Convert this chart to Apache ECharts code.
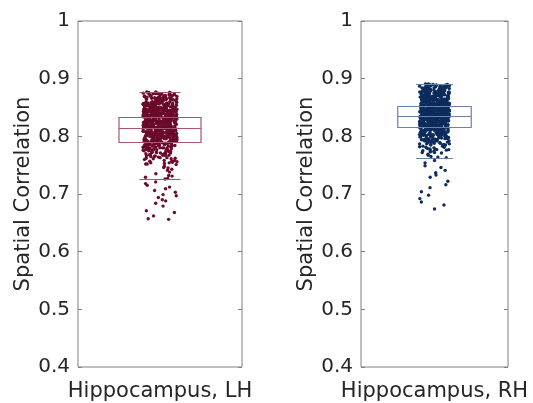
<!DOCTYPE html>
<html><head><meta charset="utf-8">
<script src="https://cdn.jsdelivr.net/npm/echarts@6/dist/echarts.min.js"></script>
<style>html,body{margin:0;padding:0;background:#fff}#c{width:533px;height:403px}</style>
</head><body><div id="c"></div>
<script>
// ---- data ----
const categoriesLH = ['Hippocampus, LH'];
const categoriesRH = ['Hippocampus, RH'];
const yTicks = [0.4, 0.5, 0.6, 0.7, 0.8, 0.9, 1];
// [lower whisker, Q1, median, Q3, upper whisker]
const boxLH = [0.726, 0.790, 0.814, 0.833, 0.877];
const boxRH = [0.763, 0.817, 0.835, 0.853, 0.891];

const pointsLH = [
0.877,0.875,0.874,0.873,0.872,0.871,0.876,0.870,0.873,0.876,0.872,0.874,
0.869,0.868,0.867,0.866,0.865,0.864,0.863,0.862,0.861,0.860,0.868,0.866,0.864,0.862,0.869,0.865,0.863,0.867,0.861,0.866,0.864,0.868,
0.859,0.858,0.857,0.856,0.855,0.854,0.853,0.852,0.851,0.850,0.858,0.856,0.854,0.852,0.857,0.855,0.853,0.851,0.859,0.856,0.854,0.850,0.857,0.853,0.855,0.858,0.852,0.856,
0.849,0.848,0.847,0.846,0.845,0.844,0.843,0.842,0.841,0.840,0.848,0.846,0.844,0.842,0.847,0.845,0.843,0.841,0.849,0.846,0.844,0.840,0.847,0.843,0.845,0.848,0.842,0.846,0.841,0.844,0.849,0.843,0.847,
0.839,0.838,0.837,0.836,0.835,0.834,0.833,0.832,0.831,0.830,0.838,0.836,0.834,0.832,0.837,0.835,0.833,0.831,0.839,0.836,0.834,0.830,0.837,0.833,0.835,0.838,0.832,0.836,0.831,0.834,0.839,0.833,0.837,0.835,0.830,0.838,0.832,0.836,
0.829,0.828,0.827,0.826,0.825,0.824,0.823,0.822,0.821,0.820,0.828,0.826,0.824,0.822,0.827,0.825,0.823,0.821,0.829,0.826,0.824,0.820,0.827,0.823,0.825,0.828,0.822,0.826,0.821,0.824,0.829,0.823,0.827,0.825,0.820,0.828,0.822,0.826,0.824,0.827,0.821,0.825,
0.819,0.818,0.817,0.816,0.815,0.814,0.813,0.812,0.811,0.810,0.818,0.816,0.814,0.812,0.817,0.815,0.813,0.811,0.819,0.816,0.814,0.810,0.817,0.813,0.815,0.818,0.812,0.816,0.811,0.814,0.819,0.813,0.817,0.815,0.810,0.818,0.812,0.816,0.814,0.817,0.811,0.815,
0.809,0.808,0.807,0.806,0.805,0.804,0.803,0.802,0.801,0.800,0.808,0.806,0.804,0.802,0.807,0.805,0.803,0.801,0.809,0.806,0.804,0.800,0.807,0.803,0.805,0.808,0.802,0.806,0.801,0.804,0.809,0.803,0.807,0.805,0.800,0.808,0.802,0.806,
0.799,0.798,0.797,0.796,0.795,0.794,0.793,0.792,0.791,0.790,0.798,0.796,0.794,0.792,0.797,0.795,0.793,0.791,0.799,0.796,0.794,0.790,0.797,0.793,0.795,0.798,0.792,0.796,0.791,0.794,0.799,0.793,
0.789,0.788,0.787,0.786,0.785,0.784,0.783,0.782,0.781,0.780,0.788,0.786,0.784,0.782,0.787,0.785,0.783,0.781,0.789,0.786,0.784,0.780,0.787,0.783,
0.779,0.777,0.776,0.775,0.774,0.772,0.771,0.770,0.778,0.776,0.773,0.771,0.779,0.775,0.772,0.777,
0.769,0.767,0.766,0.764,0.762,0.761,0.768,0.765,0.763,0.760,0.767,
0.758,0.756,0.754,0.752,0.751,0.757,0.753,
0.748,0.746,0.743,0.741,0.745,
0.738,0.735,0.732,0.731,
0.729,0.727,0.726,
0.721,0.718,0.715,0.712,0.709,0.706,0.703,0.699,0.697,0.694,0.690,0.688,0.684,0.679,0.671,0.668,0.662,0.657,0.656,
0.876,0.874,0.872,0.871,0.869,0.868,0.866,0.865,0.863,0.862,0.860,0.875,0.873,0.870,0.867,0.864,0.861,0.877,0.872,0.869,0.866,0.863,0.860,0.874,0.871,0.868,0.865,0.862,0.870,0.867,
0.859,0.857,0.856,0.854,0.853,0.851,0.850,0.858,0.855,0.852,0.859,0.856,0.853,0.851,0.857,0.854,0.850,0.858,0.855,0.852,0.856,0.853,0.859,0.857,0.851,0.854,0.858,0.850,0.855,0.853,0.856,0.852,0.857,0.854,0.851,0.858,
0.849,0.847,0.846,0.844,0.843,0.841,0.840,0.848,0.845,0.842,0.849,0.846,0.843,0.841,0.847,0.844,0.840,0.848,0.845,0.842,0.846,0.843,0.847,0.841,0.845,0.848,0.844,0.842,0.846,0.840,0.849,0.843,0.847,0.841,0.845,0.848,0.842,0.846,0.844,0.849,
0.839,0.837,0.836,0.834,0.833,0.831,0.830,0.838,0.835,0.832,0.839,0.836,0.833,0.831,0.837,0.834,0.830,0.838,0.835,0.832,0.836,0.833,0.837,0.831,0.835,0.838,0.834,0.832,0.836,0.830,0.839,0.833,0.837,0.831,0.835,0.838,0.834,0.832,0.836,0.839,0.833,0.835,
0.829,0.827,0.826,0.824,0.823,0.821,0.820,0.828,0.825,0.822,0.829,0.826,0.823,0.821,0.827,0.824,0.820,0.828,0.825,0.822,0.826,0.823,0.827,0.821,0.825,0.828,0.824,0.822,0.826,0.820,0.829,0.823,0.827,0.821,0.825,0.828,0.824,0.822,0.826,0.829,0.823,0.825,
0.819,0.817,0.816,0.814,0.813,0.811,0.810,0.818,0.815,0.812,0.819,0.816,0.813,0.811,0.817,0.814,0.810,0.818,0.815,0.812,0.816,0.813,0.817,0.811,0.815,0.818,0.814,0.812,0.816,0.810,0.819,0.813,0.817,0.811,0.815,0.818,0.814,0.812,0.816,0.819,
0.809,0.807,0.806,0.804,0.803,0.801,0.800,0.808,0.805,0.802,0.809,0.806,0.803,0.801,0.807,0.804,0.800,0.808,0.805,0.802,0.806,0.803,0.807,0.801,0.805,0.808,0.804,0.802,0.806,0.800,0.809,0.803,0.807,0.805,
0.799,0.797,0.796,0.794,0.793,0.791,0.790,0.798,0.795,0.792,0.799,0.796,0.793,0.791,0.797,0.794,0.790,0.798,0.795,0.792,0.796,0.793,0.797,0.791,0.795,0.798,
0.789,0.787,0.786,0.784,0.783,0.781,0.780,0.788,0.785,0.782,0.789,0.786,0.783,0.781,0.787,0.784,0.780,0.788,
0.779,0.776,0.774,0.772,0.770,0.778,0.775,0.773,0.771,0.777,0.774,0.779,
0.768,0.765,0.762,0.769,0.766,0.763,0.761,0.767,
0.758,0.755,0.752,0.757,0.754
];

const pointsRH = [
0.891,0.890,0.889,0.888,0.887,0.886,0.885,0.884,0.883,0.882,0.881,0.880,0.888,0.886,0.884,0.887,
0.879,0.878,0.877,0.876,0.875,0.874,0.873,0.872,0.871,0.870,0.878,0.876,0.874,0.872,0.877,0.875,0.873,0.871,0.879,0.876,0.874,0.878,
0.869,0.868,0.867,0.866,0.865,0.864,0.863,0.862,0.861,0.860,0.868,0.866,0.864,0.862,0.867,0.865,0.863,0.861,0.869,0.866,0.864,0.860,0.867,0.863,0.865,0.868,0.862,0.866,0.861,0.864,
0.859,0.858,0.857,0.856,0.855,0.854,0.853,0.852,0.851,0.850,0.858,0.856,0.854,0.852,0.857,0.855,0.853,0.851,0.859,0.856,0.854,0.850,0.857,0.853,0.855,0.858,0.852,0.856,0.851,0.854,0.859,0.853,0.857,0.855,0.850,0.858,0.852,0.856,
0.849,0.848,0.847,0.846,0.845,0.844,0.843,0.842,0.841,0.840,0.848,0.846,0.844,0.842,0.847,0.845,0.843,0.841,0.849,0.846,0.844,0.840,0.847,0.843,0.845,0.848,0.842,0.846,0.841,0.844,0.849,0.843,0.847,0.845,0.840,0.848,0.842,0.846,0.844,0.847,0.841,0.845,0.843,0.848,
0.839,0.838,0.837,0.836,0.835,0.834,0.833,0.832,0.831,0.830,0.838,0.836,0.834,0.832,0.837,0.835,0.833,0.831,0.839,0.836,0.834,0.830,0.837,0.833,0.835,0.838,0.832,0.836,0.831,0.834,0.839,0.833,0.837,0.835,0.830,0.838,0.832,0.836,0.834,0.837,0.831,0.835,0.833,0.838,0.836,0.832,
0.829,0.828,0.827,0.826,0.825,0.824,0.823,0.822,0.821,0.820,0.828,0.826,0.824,0.822,0.827,0.825,0.823,0.821,0.829,0.826,0.824,0.820,0.827,0.823,0.825,0.828,0.822,0.826,0.821,0.824,0.829,0.823,0.827,0.825,0.820,0.828,0.822,0.826,0.824,0.827,0.821,0.825,
0.819,0.818,0.817,0.816,0.815,0.814,0.813,0.812,0.811,0.810,0.818,0.816,0.814,0.812,0.817,0.815,0.813,0.811,0.819,0.816,0.814,0.810,0.817,0.813,0.815,0.818,0.812,0.816,0.811,0.814,0.819,0.813,0.817,0.815,
0.809,0.808,0.807,0.806,0.805,0.804,0.803,0.802,0.801,0.800,0.808,0.806,0.804,0.802,0.807,0.805,0.803,0.801,0.809,0.806,0.804,0.800,0.807,0.803,
0.799,0.797,0.796,0.795,0.794,0.792,0.791,0.790,0.798,0.796,0.793,0.791,0.799,0.795,0.792,0.797,
0.789,0.787,0.786,0.784,0.782,0.781,0.788,0.785,0.783,0.780,0.787,
0.779,0.777,0.775,0.773,0.772,0.776,0.771,0.778,
0.769,0.767,0.765,0.764,0.763,
0.758,0.754,0.749,0.746,0.741,0.737,0.733,0.729,0.722,0.716,0.711,0.704,0.698,0.692,0.686,0.681,0.674,
0.890,0.888,0.886,0.885,0.883,0.882,0.880,0.889,0.887,0.884,0.881,0.891,0.886,0.883,0.880,0.888,0.885,0.882,0.887,0.884,0.881,0.889,
0.879,0.877,0.876,0.874,0.873,0.871,0.870,0.878,0.875,0.872,0.879,0.876,0.873,0.871,0.877,0.874,0.870,0.878,0.875,0.872,0.876,0.873,0.877,0.871,0.875,0.878,0.874,0.872,0.876,0.870,
0.869,0.867,0.866,0.864,0.863,0.861,0.860,0.868,0.865,0.862,0.869,0.866,0.863,0.861,0.867,0.864,0.860,0.868,0.865,0.862,0.866,0.863,0.867,0.861,0.865,0.868,0.864,0.862,0.866,0.860,0.869,0.863,0.867,0.861,0.865,0.868,
0.859,0.857,0.856,0.854,0.853,0.851,0.850,0.858,0.855,0.852,0.859,0.856,0.853,0.851,0.857,0.854,0.850,0.858,0.855,0.852,0.856,0.853,0.857,0.851,0.855,0.858,0.854,0.852,0.856,0.850,0.859,0.853,0.857,0.851,0.855,0.858,0.854,0.852,0.856,0.859,0.853,0.855,
0.849,0.847,0.846,0.844,0.843,0.841,0.840,0.848,0.845,0.842,0.849,0.846,0.843,0.841,0.847,0.844,0.840,0.848,0.845,0.842,0.846,0.843,0.847,0.841,0.845,0.848,0.844,0.842,0.846,0.840,0.849,0.843,0.847,0.841,0.845,0.848,0.844,0.842,0.846,0.849,0.843,0.845,0.847,0.841,
0.839,0.837,0.836,0.834,0.833,0.831,0.830,0.838,0.835,0.832,0.839,0.836,0.833,0.831,0.837,0.834,0.830,0.838,0.835,0.832,0.836,0.833,0.837,0.831,0.835,0.838,0.834,0.832,0.836,0.830,0.839,0.833,0.837,0.831,0.835,0.838,0.834,0.832,0.836,0.839,0.833,0.835,0.837,0.831,
0.829,0.827,0.826,0.824,0.823,0.821,0.820,0.828,0.825,0.822,0.829,0.826,0.823,0.821,0.827,0.824,0.820,0.828,0.825,0.822,0.826,0.823,0.827,0.821,0.825,0.828,0.824,0.822,0.826,0.820,0.829,0.823,0.827,0.821,0.825,0.828,0.824,0.822,0.826,0.829,
0.819,0.817,0.816,0.814,0.813,0.811,0.810,0.818,0.815,0.812,0.819,0.816,0.813,0.811,0.817,0.814,0.810,0.818,0.815,0.812,0.816,0.813,0.817,0.811,0.815,0.818,0.814,0.812,0.816,0.810,0.819,0.813,
0.809,0.807,0.806,0.804,0.803,0.801,0.800,0.808,0.805,0.802,0.809,0.806,0.803,0.801,0.807,0.804,0.800,0.808,0.805,0.802,0.806,0.803,
0.799,0.796,0.794,0.792,0.790,0.798,0.795,0.793,0.791,0.797,0.794,0.799,0.796,0.792,
0.788,0.785,0.782,0.789,0.786,0.783,0.781,0.787,
0.778,0.775,0.772,0.777,0.774
];

// ---- chart ----
const FONT = 'DejaVu Sans';
const TXT = '#262626';
const FRAME = '#808080';
const colLH = '#6b0a2a', boxColLH = '#a4566e';
const colRH = '#0b2c5c', boxColRH = '#6784a8';

function boxRender(color) {
  return function (params, api) {
    const x = api.value(0);
    const lo = api.value(1), q1 = api.value(2), md = api.value(3), q3 = api.value(4), hi = api.value(5);
    const bw = api.size([1, 0])[0];
    const cx = api.coord([x, md])[0];
    const y = v => Math.round(api.coord([x, v])[1]) + 0.5;
    const hb = bw * 0.25, hc = bw * 0.125;
    const st = { stroke: color, lineWidth: 1.2, fill: 'rgba(0,0,0,0)' };
    return { type: 'group', children: [
      { type: 'rect', shape: { x: cx - hb, y: y(q3), width: 2 * hb, height: y(q1) - y(q3) }, style: st },
      { type: 'line', shape: { x1: cx - hb, y1: y(md), x2: cx + hb, y2: y(md) }, style: st },
      { type: 'line', shape: { x1: cx - hc, y1: y(hi), x2: cx + hc, y2: y(hi) }, style: st },
      { type: 'line', shape: { x1: cx - hc, y1: y(lo), x2: cx + hc, y2: y(lo) }, style: st }
    ]};
  };
}

function xAx(gi, cats, jit) {
  return { gridIndex: gi, type: 'category', data: cats, boundaryGap: true,
    jitter: jit, jitterOverlap: true,
    axisLine: { show: false }, axisTick: { show: false }, splitLine: { show: false },
    axisLabel: { color: TXT, fontFamily: FONT, fontSize: 21, margin: 14 } };
}
function yAxLeft(gi) {
  return { gridIndex: gi, type: 'value', min: yTicks[0], max: yTicks[yTicks.length - 1], interval: 0.1,
    position: 'left',
    name: 'Spatial Correlation', nameLocation: 'middle', nameGap: 43,
    nameTextStyle: { color: TXT, fontFamily: FONT, fontSize: 21 },
    axisLine: { show: false }, splitLine: { show: false },
    axisTick: { show: true, inside: true, length: 4, lineStyle: { color: FRAME } },
    axisLabel: { color: TXT, fontFamily: FONT, fontSize: 20, margin: 8 } };
}
function yAxRight(gi) {
  return { gridIndex: gi, type: 'value', min: yTicks[0], max: yTicks[yTicks.length - 1], interval: 0.1,
    position: 'right', axisLine: { show: false }, splitLine: { show: false },
    axisTick: { show: true, inside: true, length: 4, lineStyle: { color: FRAME } },
    axisLabel: { show: false } };
}

const chart = echarts.init(document.getElementById('c'));
chart.setOption({
  animation: false,
  backgroundColor: '#fff',
  grid: [
    { left: 78, top: 21, width: 164, height: 346, show: true, borderColor: FRAME, borderWidth: 1 },
    { left: 361, top: 21, width: 147, height: 346, show: true, borderColor: FRAME, borderWidth: 1 }
  ],
  xAxis: [ xAx(0, categoriesLH, 34), xAx(1, categoriesRH, 30) ],
  yAxis: [ yAxLeft(0), yAxRight(0), yAxLeft(1), yAxRight(1) ],
  series: [
    { type: 'scatter', xAxisIndex: 0, yAxisIndex: 0, symbolSize: 3.4, z: 2,
      itemStyle: { color: colLH, opacity: 1 },
      data: pointsLH.map(v => [categoriesLH[0], v]) },
    { type: 'custom', xAxisIndex: 0, yAxisIndex: 0, z: 3, renderItem: boxRender(boxColLH),
      encode: { x: 0, y: [1, 2, 3, 4, 5] },
      data: [[0].concat(boxLH)] },
    { type: 'scatter', xAxisIndex: 1, yAxisIndex: 2, symbolSize: 3.4, z: 2,
      itemStyle: { color: colRH, opacity: 1 },
      data: pointsRH.map(v => [categoriesRH[0], v]) },
    { type: 'custom', xAxisIndex: 1, yAxisIndex: 2, z: 3, renderItem: boxRender(boxColRH),
      encode: { x: 0, y: [1, 2, 3, 4, 5] },
      data: [[0].concat(boxRH)] }
  ]
});
</script>
</body></html>
